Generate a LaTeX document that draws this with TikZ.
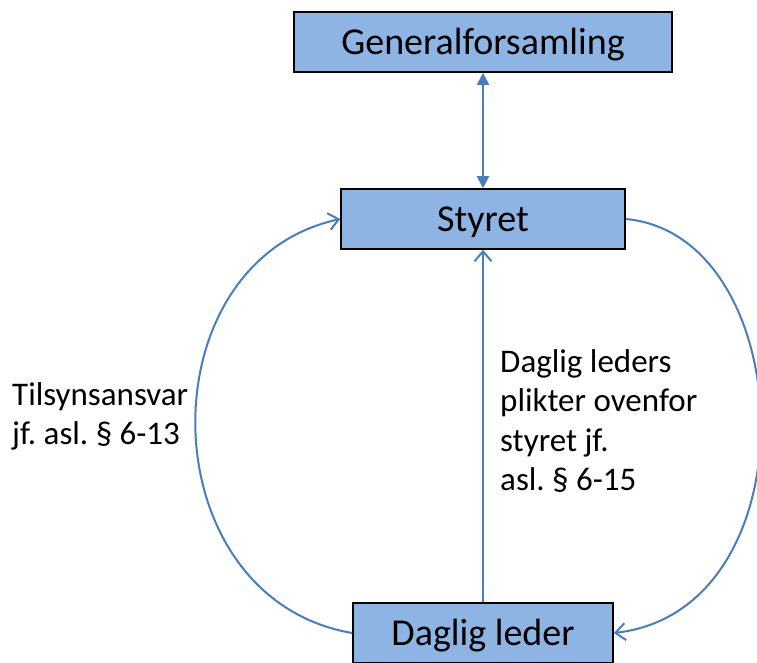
\documentclass[tikz,border=0pt]{standalone}
\usepackage{fontspec}
\setmainfont{Carlito}
\usetikzlibrary{arrows.meta}
\definecolor{boksblaa}{HTML}{8EB4E3}
\definecolor{pilblaa}{HTML}{4A7EBB}
\frenchspacing
\tikzset{
  boks/.style={draw=black, line width=1.6pt, fill=boksblaa, inner sep=0pt,
    minimum height=60pt, font=\fontsize{38}{45}\selectfont,
    text height=33pt, text depth=7.5pt},
  pil/.style={draw=pilblaa, line width=2pt},
  apen/.style={-{Straight Barb[length=10pt,width=17pt]}},
  tekst/.style={font=\fontsize{33}{39.5}\selectfont, align=left,
    anchor=north west, inner sep=0pt}
}
\begin{document}
\begin{tikzpicture}[x=1pt,y=-1pt]
\useasboundingbox (0,0) rectangle (757,662);
\node[boks, minimum width=378pt] (GF) at (483,42) {Generalforsamling};
\node[boks, minimum width=284pt] (S) at (483,219) {Styret};
\node[boks, minimum width=260pt] (DL) at (483,633) {Daglig leder};
\draw[pil, {Triangle[length=12pt,width=12pt]}-{Triangle[length=12pt,width=12pt]}] (GF) -- (S);
\draw[pil, apen] (DL) -- (S);
\draw[pil, apen] (DL.west) .. controls (148,598) and (143,262) .. (S.west);
\draw[pil, apen] (S.east) .. controls (800,235) and (815,610) .. (DL.east);
\node[tekst] (tilsyn) at (12,382) {Tilsynsansvar\\jf. asl. § 6-13};
\node[tekst] (plikter) at (500,349) {Daglig leders\\plikter ovenfor\\styret jf.\\asl. § 6-15};
\end{tikzpicture}
\end{document}
